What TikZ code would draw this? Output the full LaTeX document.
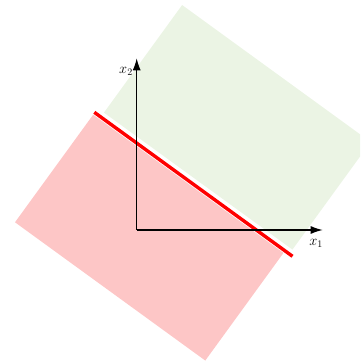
\documentclass[tikz,border=0pt]{standalone}
\usetikzlibrary{arrows.meta}
\definecolor{greenfill}{RGB}{235,244,228}
\definecolor{redfill}{RGB}{253,198,198}
\definecolor{sepred}{RGB}{255,0,0}
\tikzset{
  region/.style={draw=none},
  axis/.style={line width=1.2pt,-{Latex[length=12pt,width=8pt]}},
  sepline/.style={draw=sepred,line width=3.4pt},
  axlabel/.style={inner sep=0pt,font=\Large}
}
\begin{document}
\begin{tikzpicture}[x=1pt,y=1pt]
\useasboundingbox (0,0) rectangle (360,363);
\clip (0,0) rectangle (360,363);
\begin{scope}[shift={(94.3,250.7)},rotate=-36]
  \fill[greenfill,region] (8,5.4) rectangle (241,138.4);
  \fill[redfill,region] (0.5,-2.6) rectangle (235.7,-135.6);
  \coordinate (s1) at (0,0);
  \coordinate (s2) at (245,0);
  \draw[sepline] (s1) -- (s2);
\end{scope}
\coordinate (O) at (136.7,133);
\coordinate (X) at (322.7,133);
\coordinate (Y) at (136.7,304.7);
\draw[axis] (O) -- (X);
\draw[axis] (O) -- (Y);
\node[axlabel] (lx1) at (316,120) {$x_1$};
\node[axlabel] (lx2) at (126,292) {$x_2$};
\end{tikzpicture}
\end{document}
